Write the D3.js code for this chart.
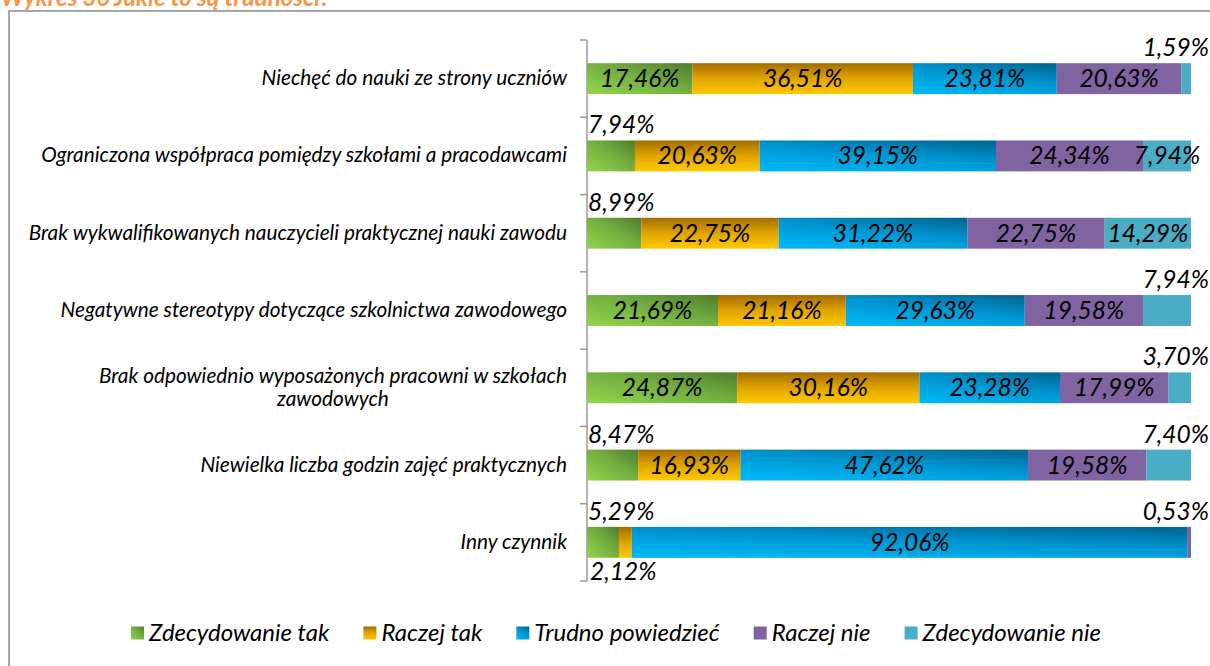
<!DOCTYPE html>
<html>
<head>
<meta charset="utf-8">
<script src="https://cdn.jsdelivr.net/npm/d3@7"></script>
<style>
  html, body { margin: 0; padding: 0; background: #fff; overflow: hidden; }
  svg { display: block; }
  text { font-family: Lato, "Open Sans", sans-serif; font-style: italic; }
</style>
</head>
<body>
<svg id="chart" width="1210" height="666"></svg>
<script>
// Answers to: "Jakie to są trudności?" (percent of respondents)
const categories = [
  "Niechęć do nauki ze strony uczniów",
  "Ograniczona współpraca pomiędzy szkołami a pracodawcami",
  "Brak wykwalifikowanych nauczycieli praktycznej nauki zawodu",
  "Negatywne stereotypy dotyczące szkolnictwa zawodowego",
  "Brak odpowiednio wyposażonych pracowni w szkołach zawodowych",
  "Niewielka liczba godzin zajęć praktycznych",
  "Inny czynnik"
];
const seriesNames = ["Zdecydowanie tak", "Raczej tak", "Trudno powiedzieć", "Raczej nie", "Zdecydowanie nie"];
const zdecydowanieTak = [17.46, 7.94, 8.99, 21.69, 24.87, 8.47, 5.29];
const raczejTak       = [36.51, 20.63, 22.75, 21.16, 30.16, 16.93, 2.12];
const trudnoPowiedziec= [23.81, 39.15, 31.22, 29.63, 23.28, 47.62, 92.06];
const raczejNie       = [20.63, 24.34, 22.75, 19.58, 17.99, 19.58, 0.53];
const zdecydowanieNie = [1.59, 7.94, 14.29, 7.94, 3.70, 7.40, 0.00];
const seriesValues = [zdecydowanieTak, raczejTak, trudnoPowiedziec, raczejNie, zdecydowanieNie];

// Labels of thin segments sit outside the bar: "aboveStart", "aboveEnd" or "below".
const labelPlacement = {
  "0-1": "aboveStart", "0-2": "aboveStart", "0-5": "aboveStart", "0-6": "aboveStart",
  "1-6": "below",
  "3-6": "aboveEnd",
  "4-0": "aboveEnd", "4-3": "aboveEnd", "4-4": "aboveEnd", "4-5": "aboveEnd"
};

const fmt = v => v.toFixed(2).replace(".", ",") + "%";

const svg = d3.select("#chart");
const defs = svg.append("defs");

// Fills: gradients for the first three series, flat for the last two
function addGradient(id, coords, stops) {
  const g = defs.append("linearGradient").attr("id", id)
    .attr("x1", coords[0]).attr("y1", coords[1]).attr("x2", coords[2]).attr("y2", coords[3]);
  stops.forEach(s => g.append("stop").attr("offset", s[0]).attr("stop-color", s[1]));
}
addGradient("gGreen", [0, 1, 1, 0], [[0, "#92d64e"], [0.55, "#72ad3f"], [1, "#4f7d2c"]]);
addGradient("gOrange", [0, 0, 0, 1], [[0, "#a46c00"], [0.5, "#e0a400"], [1, "#ffc900"]]);
addGradient("gBlue", [0.2, 1, 0.8, 0], [[0, "#00b6f2"], [0.55, "#0096d2"], [1, "#006a98"]]);
const fills = ["url(#gGreen)", "url(#gOrange)", "url(#gBlue)", "#8064a2", "#4bacc6"];

// Title (partly above the visible area)
svg.append("text")
  .attr("x", 1).attr("y", 6)
  .attr("fill", "#f79646")
  .style("font-size", "24px").style("font-weight", "bold")
  .text("Wykres 36 Jakie to są trudności?");

// Chart frame
svg.append("rect")
  .attr("x", 9).attr("y", 11).attr("width", 1300).attr("height", 800)
  .attr("fill", "none").attr("stroke", "#8a8a8a").attr("stroke-width", 1.5);

const x = d3.scaleLinear().domain([0, 100]).range([587, 1191]);
const y = d3.scaleBand().domain(d3.range(categories.length)).range([40, 581])
  .paddingInner(0.6).paddingOuter(0.3);

// Category axis with ticks at band boundaries
const axisG = svg.append("g");
axisG.append("line")
  .attr("x1", x(0)).attr("x2", x(0)).attr("y1", 40).attr("y2", 581)
  .attr("stroke", "#9a9a9a").attr("stroke-width", 1.5);
const step = y.step();
d3.range(categories.length + 1).forEach(i => {
  const yy = 40 + i * step;
  axisG.append("line")
    .attr("x1", x(0) - 7).attr("x2", x(0)).attr("y1", yy).attr("y2", yy)
    .attr("stroke", "#9a9a9a").attr("stroke-width", 1.5);
});

// Category labels, wrapped when too wide
const labelSize = 20.8;
const maxLabelWidth = 565;
function textWidth(str, size) {
  const tt = svg.append("text").style("font-size", size + "px").text(str);
  const w = tt.node().getComputedTextLength();
  tt.remove();
  return w;
}
categories.forEach((c, i) => {
  const cy = y(i) + y.bandwidth() / 2;
  const t = svg.append("text")
    .attr("text-anchor", "end")
    .style("font-size", labelSize + "px").attr("fill", "#000");
  const words = c.split(" ");
  let lines = [], line = [];
  words.forEach(w => {
    const trial = line.concat(w).join(" ");
    if (textWidth(trial, labelSize) > maxLabelWidth && line.length) {
      lines.push(line.join(" "));
      line = [w];
    } else line.push(w);
  });
  lines.push(line.join(" "));
  const lh = 23;
  const top = cy - (lines.length - 1) * lh / 2 + 6.5;
  if (lines.length === 1) {
    t.attr("x", 567).attr("y", top).text(lines[0]);
  } else {
    // multi-line label: block right-aligned, lines centred within it
    const bw = d3.max(lines, l => textWidth(l, labelSize));
    t.attr("text-anchor", "middle");
    lines.forEach((l, k) => t.append("tspan").attr("x", 567 - bw / 2).attr("y", top + k * lh).text(l));
  }
});

// Stacked bars
const barsG = svg.append("g");
const labelsG = svg.append("g");
const valueSize = 24.5;
categories.forEach((c, i) => {
  let cum = 0;
  seriesValues.forEach((vals, s) => {
    const v = vals[i];
    const x0 = cum, x1 = cum + v;
    cum = x1;
    if (v <= 0) return;
    barsG.append("rect")
      .attr("x", x(x0)).attr("y", y(i))
      .attr("width", x(x1) - x(x0)).attr("height", y.bandwidth())
      .attr("fill", fills[s]);
    const place = labelPlacement[s + "-" + i];
    const lbl = labelsG.append("text").style("font-size", valueSize + "px").attr("fill", "#000").text(fmt(v));
    if (!place) {
      lbl.attr("x", (x(x0) + x(x1)) / 2).attr("y", y(i) + y.bandwidth() / 2 + 8.5)
        .attr("text-anchor", "middle");
    } else if (place === "aboveStart") {
      lbl.attr("x", x(0) + 1).attr("y", y(i) - 7).attr("text-anchor", "start");
    } else if (place === "aboveEnd") {
      lbl.attr("x", 1209).attr("y", y(i) - 7).attr("text-anchor", "end");
    } else if (place === "below") {
      lbl.attr("x", x(0) + 3).attr("y", y(i) + y.bandwidth() + 22).attr("text-anchor", "start");
    }
  });
});

// Legend
const legendG = svg.append("g");
const legendSize = 24;
const sq = 13, gapIn = 5, gapOut = 34;
const items = seriesNames.map((n, s) => ({ n, s, w: textWidth(n, legendSize) }));
const total = d3.sum(items, d => sq + gapIn + d.w) + gapOut * (items.length - 1);
let lx = 616 - total / 2;
const ly = 633;
items.forEach(d => {
  legendG.append("rect").attr("x", lx).attr("y", ly - sq / 2).attr("width", sq).attr("height", sq)
    .attr("fill", fills[d.s]);
  legendG.append("text").attr("x", lx + sq + gapIn).attr("y", ly + 8)
    .style("font-size", legendSize + "px").attr("fill", "#000").text(d.n);
  lx += sq + gapIn + d.w + gapOut;
});
</script>
</body>
</html>
